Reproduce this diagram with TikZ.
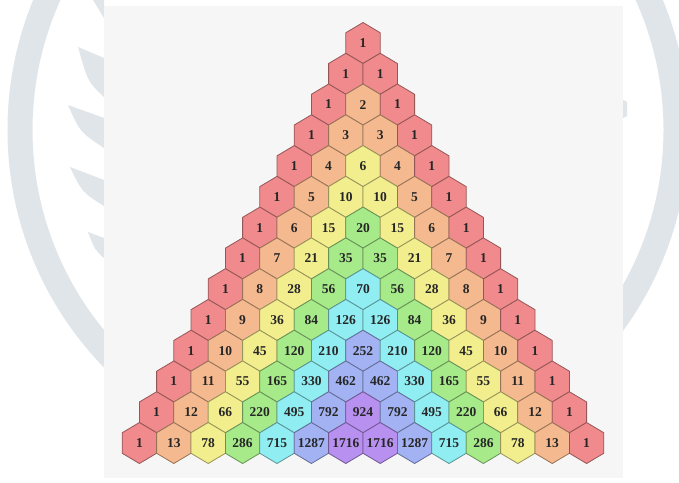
\documentclass[tikz,border=0pt]{standalone}
\usepackage{fontspec}
\setmainfont{Liberation Serif}
\definecolor{bgray}{HTML}{F6F6F6}
\definecolor{wm}{HTML}{E0E5E9}
\definecolor{c0}{HTML}{F08A8C}
\definecolor{c1}{HTML}{F4B98E}
\definecolor{c2}{HTML}{F2EE8E}
\definecolor{c3}{HTML}{A6EA8A}
\definecolor{c4}{HTML}{90EEF2}
\definecolor{c5}{HTML}{A2B2F2}
\definecolor{c6}{HTML}{B890F0}
\definecolor{numcol}{HTML}{262626}
\begin{document}
\begin{tikzpicture}[x=1pt,y=-1pt,
  hexcell/.style={draw=#1!62!black, fill=#1, line width=0.8pt, line join=round},
  numtext/.style={text=numcol, font=\fontsize{13.5}{13.5}\selectfont\bfseries, inner sep=0pt}]
\useasboundingbox (0,0) rectangle (679,482);
\fill[white] (0,0) rectangle (679,482);
% watermark
\begin{scope}
\clip (0,0) rectangle (679,482);
\draw[wm, line width=25pt] (348,130) circle[radius=328];
\fill[wm] (78,47) -- (104,58) -- (104,97) .. controls (88,82) .. (78,47) -- cycle;
\fill[wm] (68,105) -- (104,118) -- (104,148) .. controls (80,132) .. (68,105) -- cycle;
\fill[wm] (70,167) -- (104,180) -- (104,206) .. controls (82,192) .. (70,167) -- cycle;
\fill[wm] (88,232) -- (104,238) -- (104,258) .. controls (95,250) .. (88,232) -- cycle;
\fill[wm] (93,0) -- (104,0) -- (104,18) -- cycle;
\fill[wm] (623,100) -- (627,102) -- (627,116) -- (623,118) -- cycle;
\end{scope}
% background panel
\fill[bgray] (104,6) rectangle (623,478);
% triangle
\foreach \row [count=\n from 0] in {
  {1},{1,1},{1,2,1},{1,3,3,1},{1,4,6,4,1},{1,5,10,10,5,1},
  {1,6,15,20,15,6,1},{1,7,21,35,35,21,7,1},{1,8,28,56,70,56,28,8,1},
  {1,9,36,84,126,126,84,36,9,1},{1,10,45,120,210,252,210,120,45,10,1},
  {1,11,55,165,330,462,462,330,165,55,11,1},
  {1,12,66,220,495,792,924,792,495,220,66,12,1},
  {1,13,78,286,715,1287,1716,1716,1287,715,286,78,13,1}}{
  \foreach \v [count=\k from 0] in \row {
    \pgfmathtruncatemacro{\m}{min(\k,\n-\k)}
    \pgfmathsetmacro{\cx}{363+(\k-\n/2)*34.4}
    \pgfmathsetmacro{\cy}{43+30.77*\n}
    \draw[hexcell=c\m] (\cx,\cy) ++(0,-20.5) -- ++(17.2,10.25) -- ++(0,20.5)
      -- ++(-17.2,10.25) -- ++(-17.2,-10.25) -- ++(0,-20.5) -- cycle;
    \node[numtext] (h-\n-\k) at (\cx,\cy) {\v};
  }
}
\end{tikzpicture}
\end{document}
